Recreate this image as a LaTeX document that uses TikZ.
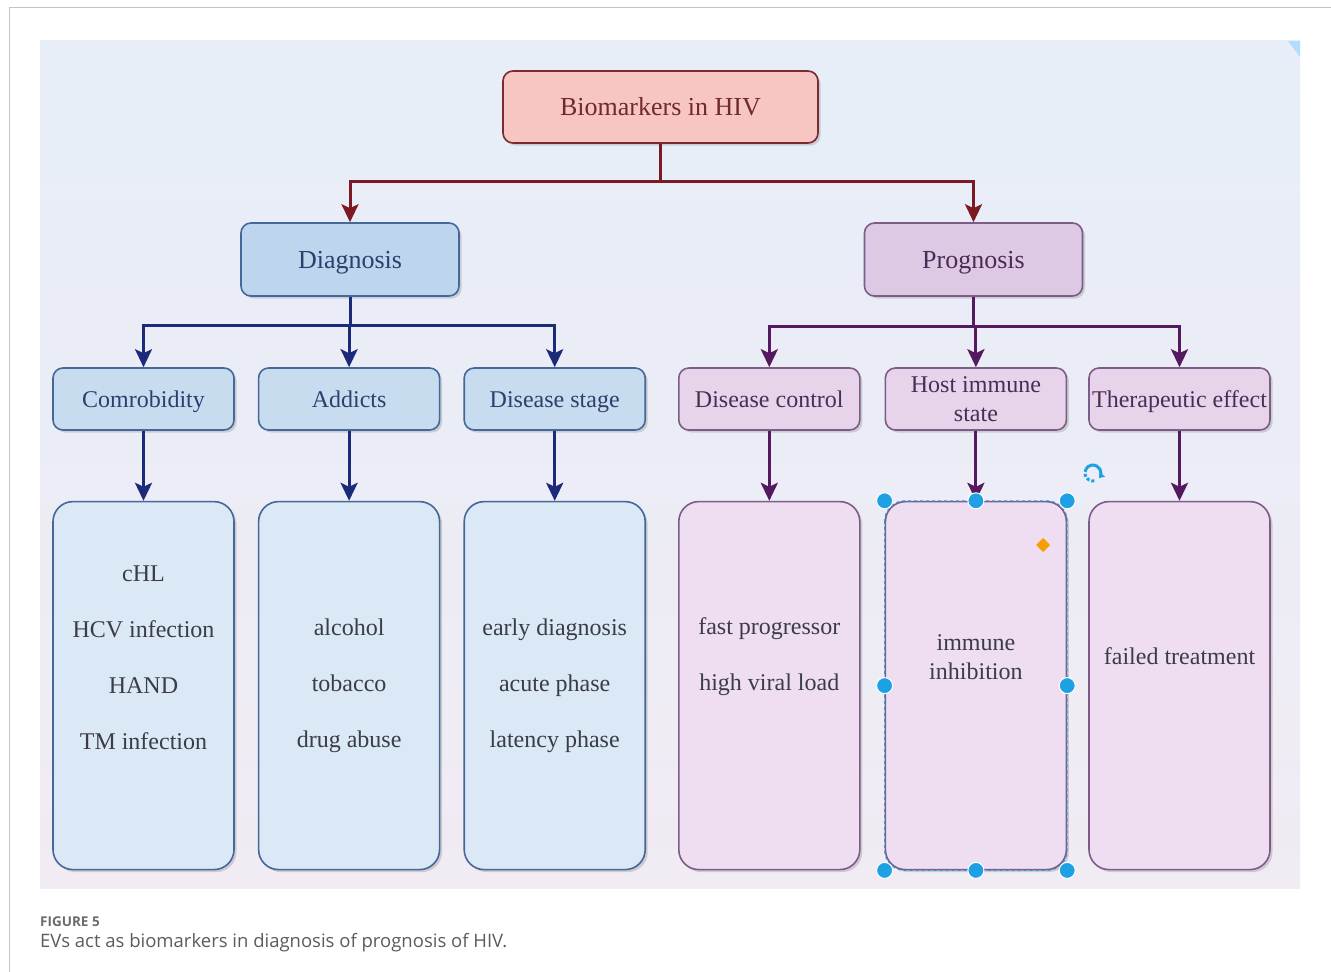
\documentclass[tikz,border=0pt]{standalone}
\usepackage{fontspec}
\setmainfont{Liberation Serif}
\newfontfamily\capfont{Open Sans}
\usetikzlibrary{arrows.meta,positioning,shadows}

\definecolor{bgtopc}{HTML}{E7EEF8}
\definecolor{bgbotc}{HTML}{F1EBF3}
\definecolor{rootfillc}{HTML}{F8C6C2}
\definecolor{rootdrawc}{HTML}{7A2B32}
\definecolor{roottextc}{HTML}{6E2A2C}
\definecolor{rootlinec}{HTML}{7B1A24}
\definecolor{diagfillc}{HTML}{BDD6EE}
\definecolor{dleaffillc}{HTML}{C8DCF0}
\definecolor{dcardfillc}{HTML}{DBE8F6}
\definecolor{diagdrawc}{HTML}{45679A}
\definecolor{diagtextc}{HTML}{2F3E6C}
\definecolor{diaglinec}{HTML}{1C2A7A}
\definecolor{progfillc}{HTML}{DEC9E5}
\definecolor{pleaffillc}{HTML}{E7D4EB}
\definecolor{pcardfillc}{HTML}{EFDEF1}
\definecolor{progdrawc}{HTML}{7D5C87}
\definecolor{progtextc}{HTML}{4A2C56}
\definecolor{proglinec}{HTML}{55195F}
\definecolor{cardtextc}{HTML}{3A3C48}
\definecolor{selc}{HTML}{1DA1E4}
\definecolor{knobc}{HTML}{F5A000}
\definecolor{framec}{HTML}{C4C4C4}
\definecolor{captionc}{HTML}{5C5C5C}

\begin{document}
\begin{tikzpicture}[x=1pt, y=-1pt, >={Stealth[length=18pt,width=17pt,inset=4pt]},
  box/.style={draw, rounded corners=10pt, line width=1.6pt, align=center, inner sep=2pt,
    drop shadow={shadow xshift=2.5pt, shadow yshift=-2.5pt, opacity=0.3}},
  oneline/.style={text height=21pt, text depth=4pt},
  rootbox/.style={box, oneline, fill=rootfillc, draw=rootdrawc, text=roottextc,
    minimum width=315pt, minimum height=72pt, font=\fontsize{26}{30}\selectfont},
  diagbox/.style={box, oneline, fill=diagfillc, draw=diagdrawc, text=diagtextc,
    minimum width=218pt, minimum height=73pt, font=\fontsize{26}{30}\selectfont},
  progbox/.style={box, oneline, fill=progfillc, draw=progdrawc, text=progtextc,
    minimum width=218pt, minimum height=73pt, font=\fontsize{26}{30}\selectfont},
  dleaf/.style={box, fill=dleaffillc, draw=diagdrawc, text=diagtextc,
    minimum width=181pt, minimum height=62pt, font=\fontsize{24}{29}\selectfont},
  pleaf/.style={box, fill=pleaffillc, draw=progdrawc, text=progtextc,
    minimum width=181pt, minimum height=62pt, font=\fontsize{24}{29}\selectfont},
  dcard/.style={box, rounded corners=20pt, fill=dcardfillc, draw=diagdrawc,
    minimum width=181pt, minimum height=368pt},
  pcard/.style={box, rounded corners=20pt, fill=pcardfillc, draw=progdrawc,
    minimum width=181pt, minimum height=368pt},
  cardtext/.style={align=center, text=cardtextc, font=\fontsize{24}{56}\selectfont},
  rline/.style={->, draw=rootlinec, line width=3pt},
  dline/.style={->, draw=diaglinec, line width=3pt},
  pline/.style={->, draw=proglinec, line width=3pt}]

	% Page and background
	\fill [white] (0,0) rectangle (1331,972);
	\useasboundingbox (0,0) rectangle (1331,972);
	\draw [framec, line width=1pt] (9.5,972) -- (9.5,7.5) -- (1331,7.5);
	\shade [top color=bgtopc, bottom color=bgbotc, middle color=bgtopc!55!bgbotc] (40,40) rectangle (1300,888);
	\fill [blue!45!cyan!30] (1288,41) -- (1300,41) -- (1300,57) -- cycle;

	% Nodes {root, diag, prog, leaves, cards}
	\node [rootbox] (root) at (660.5,107)   {Biomarkers in HIV};
	\node [diagbox] (diag) at (350,259.5)   {Diagnosis};
	\node [progbox] (prog) at (973.5,259.5) {Prognosis};

	\node [dleaf, oneline] (com)   at (143.5,399)         {Comrobidity};
	\node [dleaf, oneline] (add)   [right=23pt of com]    {Addicts};
	\node [dleaf, oneline] (stage) [right=23pt of add]    {Disease stage};
	\node [pleaf, oneline] (ctrl)  [right=32pt of stage]  {Disease control};
	\node [pleaf]          (host)  [right=24pt of ctrl]   {Host immune\\state};
	\node [pleaf, oneline] (ther)  [right=21pt of host]   {Therapeutic effect};

	\node [dcard] (comcard)   [below=70pt of com]   {};
	\node [dcard] (addcard)   [below=70pt of add]   {};
	\node [dcard] (stagecard) [below=70pt of stage] {};
	\node [pcard] (ctrlcard)  [below=70pt of ctrl]  {};
	\node [pcard] (hostcard)  [below=70pt of host]  {};
	\node [pcard] (thercard)  [below=70pt of ther]  {};

	\node [cardtext] (comtxt)   at ([yshift=27.5pt]comcard.center) {cHL\\HCV infection\\HAND\\TM infection};
	\node [cardtext] (addtxt)   at (addcard.center)                {alcohol\\tobacco\\drug abuse};
	\node [cardtext] (stagetxt) at (stagecard.center)              {early diagnosis\\acute phase\\latency phase};
	\node [cardtext] (ctrltxt)  at ([yshift=28.5pt]ctrlcard.center) {fast progressor\\high viral load};
	\node [cardtext, font=\fontsize{24}{29}\selectfont] (hosttxt) at ([yshift=28.5pt]hostcard.center) {immune\\inhibition};
	\node [cardtext] (thertxt)  at ([yshift=29pt]thercard.center)  {failed treatment};

	% Paths
	\draw [rline] (root.south) -- ++(0,38) -| (diag.north);
	\draw [rline] (root.south) -- ++(0,38) -| (prog.north);

	\draw [dline] (diag.south) -- ++(0,29) -| (com.north);
	\draw [dline] (diag.south) -- ++(0,29) -| (add.north);
	\draw [dline] (diag.south) -- ++(0,29) -| (stage.north);
	\draw [pline] (prog.south) -- ++(0,30) -| (ctrl.north);
	\draw [pline] (prog.south) -- ++(0,30) -| (host.north);
	\draw [pline] (prog.south) -- ++(0,30) -| (ther.north);

	\draw [dline] (com)   -- (comcard);
	\draw [dline] (add)   -- (addcard);
	\draw [dline] (stage) -- (stagecard);
	\draw [pline] (ctrl)  -- (ctrlcard);
	\draw [pline] (host)  -- (hostcard);
	\draw [pline] (ther)  -- (thercard);

	% Selection handles on the host card
	\draw [selc, dashed, line width=1pt, rounded corners=20pt] (hostcard.north west) rectangle (hostcard.south east);
	\foreach \a in {north west, north, north east, west, east, south west, south, south east}
		\fill [selc, draw=white, line width=1pt] (hostcard.\a) circle (8pt);
	\fill [knobc] (1043,538) -- (1050,545) -- (1043,552) -- (1036,545) -- cycle;
	\draw [selc, line width=3pt, -{Triangle[length=5pt,width=7pt]}] (1086,469) arc [start angle=150, end angle=-40, radius=8pt];
	\draw [selc, line width=3pt, dotted] (1086,469) arc [start angle=150, end angle=280, radius=8pt];

	% Caption
	\node [anchor=base west, inner sep=0pt, text=captionc!90!white, font=\capfont\bfseries\fontsize{13.5}{16}\selectfont] (fig) at (40,926) {FIGURE 5};
	\node [anchor=base west, inner sep=0pt, text=captionc, font=\capfont\fontsize{18.5}{22}\selectfont] (cap) at (40,947) {EVs act as biomarkers in diagnosis of prognosis of HIV.};

\end{tikzpicture}
\end{document}
